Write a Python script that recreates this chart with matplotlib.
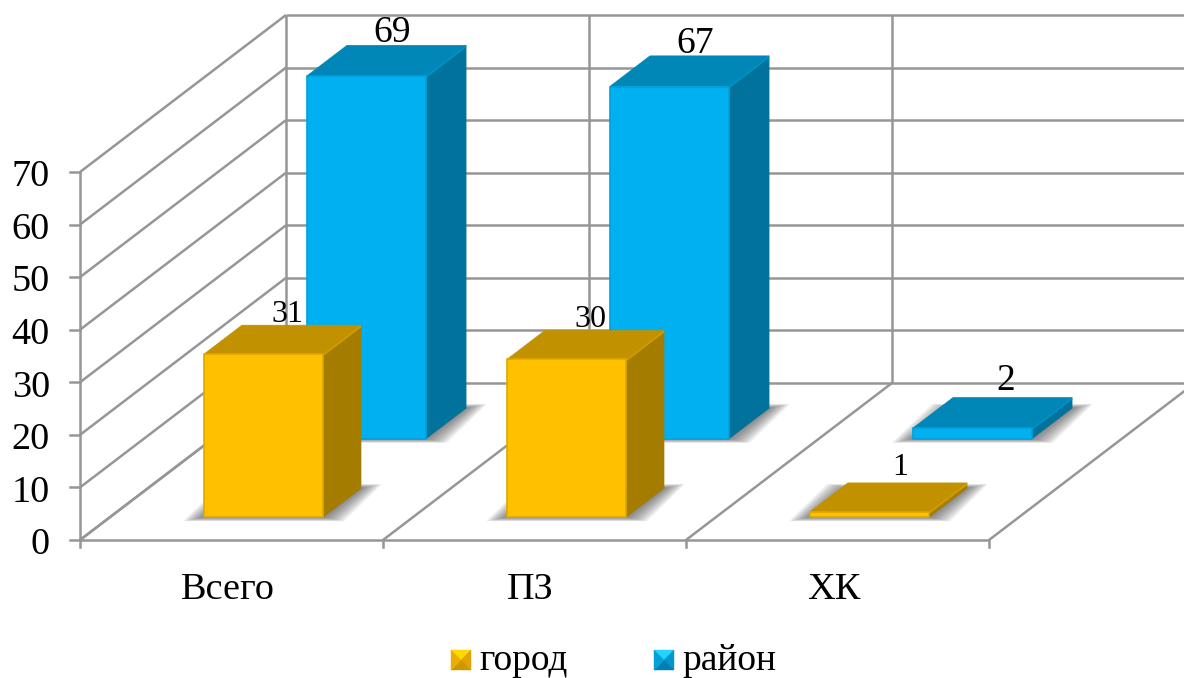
import matplotlib
matplotlib.use('Agg')
import matplotlib.pyplot as plt
from matplotlib.patches import Polygon

categories = ['Всего', 'ПЗ', 'ХК']
gorod = [31, 30, 1]
rayon = [69, 67, 2]
y_ticks = [0, 10, 20, 30, 40, 50, 60, 70]

# oblique projection of the chart box onto the canvas
X0, Y0 = 80, 540
CAT_W = 303
DEPTH_X, DEPTH_Y = 206, 157
UNIT = 368 / 70.0
GRID = '#969696'

plt.rcParams['font.family'] = ['Liberation Serif', 'DejaVu Serif']


def project(cat, depth, value):
    return (X0 + CAT_W * cat + DEPTH_X * depth, Y0 - DEPTH_Y * depth - UNIT * value)


def line(ax, a, b, lw=1.8, z=1):
    ax.plot([a[0], b[0]], [a[1], b[1]], color=GRID, lw=lw, zorder=z, solid_capstyle='butt')


def draw_box(ax, i, value, d0, d1, colors, label_size, z):
    front, side, top, rim, shine = colors
    c0, c1 = i + 0.31, i + 0.703
    # soft shadow lying on the floor
    for k in range(12):
        e = 21 * (1 - k / 12.0)
        pts = [project(c0, d0, 0), project(c1, d0, 0), project(c1, d1, 0), project(c0, d1, 0)]
        pts = [(pts[0][0] - e, pts[0][1] + 0.2 * e), (pts[1][0] + e, pts[1][1] + 0.2 * e),
               (pts[2][0] + e, pts[2][1] - 0.2 * e), (pts[3][0] - e, pts[3][1] - 0.2 * e)]
        ax.add_patch(Polygon(pts, closed=True, fc='#404040', ec='none', alpha=0.07, zorder=z))
    f = [project(c0, d0, 0), project(c1, d0, 0), project(c1, d0, value), project(c0, d0, value)]
    s = [project(c1, d0, 0), project(c1, d1, 0), project(c1, d1, value), project(c1, d0, value)]
    t = [project(c0, d0, value), project(c1, d0, value), project(c1, d1, value), project(c0, d1, value)]
    ax.add_patch(Polygon(s, closed=True, fc=side, ec=side, lw=0.5, zorder=z + 1))
    ax.add_patch(Polygon(t, closed=True, fc=top, ec=top, lw=0.5, joinstyle='round', zorder=z + 1))
    # lighter bevel along the right edge of the top face
    ax.plot([t[1][0], t[2][0]], [t[1][1] + 1, t[2][1] + 1], color=shine, lw=1.4, zorder=z + 1, solid_capstyle='butt')
    ax.add_patch(Polygon(f, closed=True, fc=front, ec=rim, lw=1.2, joinstyle='round', zorder=z + 2))
    # label sits above the middle of the top face
    lx, ly = project((c0 + c1) / 2, d1, value)
    if value < 5:
        lx, ly = lx - 7, ly - 8
    else:
        lx, ly = lx - 14, ly - 3
    ax.text(lx, ly, str(value), fontsize=label_size, ha='center', va='baseline', color='black', zorder=z + 3)


def swatch(ax, x, y, size, tone):
    cx, cy = x + size / 2.0, y + size * 0.5
    corners = [(x, y), (x + size, y), (x + size, y + size), (x, y + size)]
    for j in range(4):
        tri = [corners[j], corners[(j + 1) % 4], (cx, cy)]
        ax.add_patch(Polygon(tri, closed=True, fc=tone[j], ec=tone[j], lw=0.3, zorder=5))


fig = plt.figure(figsize=(11.84, 6.78), dpi=100)
ax = fig.add_axes([0, 0, 1, 1])
ax.set_xlim(0, 1184)
ax.set_ylim(678, 0)
ax.axis('off')

# walls and floor
top_val = y_ticks[-1]
for v in y_ticks:
    line(ax, project(0, 0, v), project(0, 1, v))
    line(ax, project(0, 1, v), project(3.1, 1, v))
    ax.plot([X0 - 10, X0], [project(0, 0, v)[1]] * 2, color=GRID, lw=1.8, zorder=1)
    ax.text(X0 - 30, project(0, 0, v)[1] + 1, str(v), fontsize=27.5, ha='right', va='center_baseline')
line(ax, project(0, 0, 0), project(0, 0, top_val))
line(ax, project(0, 0, 0), project(3, 0, 0))
for i in range(len(categories) + 1):
    line(ax, project(i, 0, 0), project(i, 1, 0))
    p = project(i, 0, 0)
    ax.plot([p[0], p[0]], [p[1], p[1] + 7], color=GRID, lw=1.8, zorder=1)
    line(ax, project(i, 1, 0), project(i, 1, top_val))

orange = ('#FFC000', '#A47C00', '#C29100', '#E0A800', '#CF9C00')
blue = ('#00B0F0', '#00729C', '#0087B8', '#00A0DC', '#0090C4')

# back row first so the front row overlaps it
for i, v in enumerate(rayon):
    draw_box(ax, i, v, 0.645, 0.84, blue, 27, 3 + i * 6)
for i, v in enumerate(gorod):
    draw_box(ax, i, v, 0.146, 0.33, orange, 23, 30 + i * 6)

for i, name in enumerate(categories):
    ax.text(project(i + 0.5, 0, 0)[0] - 4, 590, name, fontsize=27.5, ha='center', va='center')

# legend
swatch(ax, 451, 650, 20, ['#FFD800', '#E2A400', '#D09600', '#EBAE00'])
ax.text(479, 670, 'город', fontsize=27, ha='left', va='baseline')
swatch(ax, 654, 650, 20, ['#22D4FF', '#0096CE', '#0080B0', '#00A0DA'])
ax.text(682, 670, 'район', fontsize=27, ha='left', va='baseline')

fig.savefig('out.png', dpi=100)
